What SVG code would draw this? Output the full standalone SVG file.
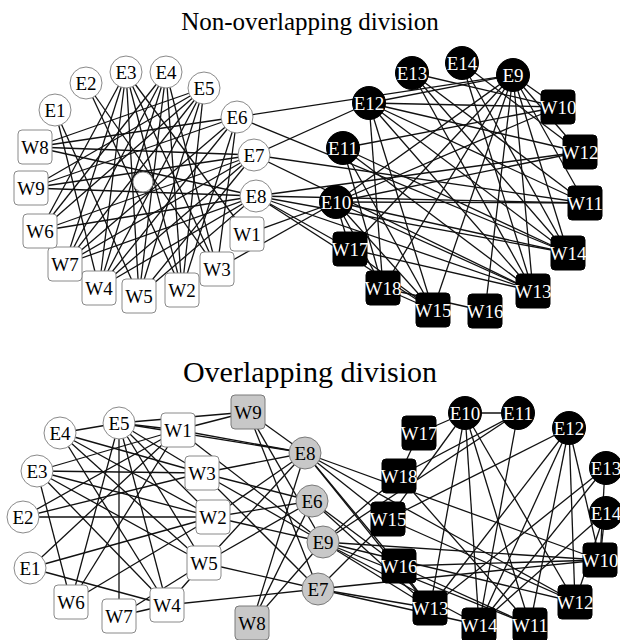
<svg xmlns="http://www.w3.org/2000/svg" width="620" height="640" viewBox="0 0 620 640">
<style>
.e line{stroke:#111;stroke-width:1.3}
.w circle,.w rect{fill:#fff;stroke:#8a8a8a;stroke-width:1}
.k circle,.k rect{fill:#000;stroke:#000}
.g circle,.g rect{fill:#c8c8c8;stroke:#7a7a7a;stroke-width:1}
text{font-family:"Liberation Serif","Times New Roman",serif;font-size:19px;text-anchor:middle;dominant-baseline:central}
.k text{fill:#fff}
.title{font-size:25px;dominant-baseline:alphabetic}
</style>
<rect width="620" height="640" fill="#fff"/>
<text class="title" x="310" y="30">Non-overlapping division</text>
<text class="title" x="310" y="382" style="font-size:30px">Overlapping division</text>

<g id="connectors" class="e">
<!-- top left -->
<line x1="55" y1="110" x2="99" y2="288"/><line x1="55" y1="110" x2="139" y2="296"/>
<line x1="86" y1="83" x2="182" y2="290"/><line x1="86" y1="83" x2="217" y2="269"/>
<line x1="126" y1="72" x2="40" y2="231"/><line x1="126" y1="72" x2="65" y2="264"/><line x1="126" y1="72" x2="99" y2="288"/><line x1="126" y1="72" x2="139" y2="296"/><line x1="126" y1="72" x2="182" y2="290"/><line x1="126" y1="72" x2="217" y2="269"/><line x1="126" y1="72" x2="247" y2="234"/>
<line x1="166" y1="72" x2="65" y2="264"/><line x1="166" y1="72" x2="40" y2="231"/><line x1="166" y1="72" x2="99" y2="288"/><line x1="166" y1="72" x2="139" y2="296"/><line x1="166" y1="72" x2="182" y2="290"/><line x1="166" y1="72" x2="217" y2="269"/>
<line x1="204" y1="88" x2="35" y2="147"/><line x1="204" y1="88" x2="31" y2="188"/><line x1="204" y1="88" x2="40" y2="231"/><line x1="204" y1="88" x2="65" y2="264"/><line x1="204" y1="88" x2="99" y2="288"/><line x1="204" y1="88" x2="139" y2="296"/><line x1="204" y1="88" x2="182" y2="290"/>
<line x1="237" y1="117" x2="35" y2="147"/><line x1="237" y1="117" x2="31" y2="188"/><line x1="237" y1="117" x2="65" y2="264"/><line x1="237" y1="117" x2="99" y2="288"/><line x1="237" y1="117" x2="217" y2="269"/><line x1="237" y1="117" x2="182" y2="290"/>
<line x1="254" y1="155" x2="31" y2="188"/><line x1="254" y1="155" x2="40" y2="231"/><line x1="254" y1="155" x2="65" y2="264"/><line x1="254" y1="155" x2="99" y2="288"/><line x1="254" y1="155" x2="139" y2="296"/><line x1="254" y1="155" x2="35" y2="147"/>
<line x1="256" y1="196" x2="35" y2="147"/><line x1="256" y1="196" x2="31" y2="188"/><line x1="256" y1="196" x2="40" y2="231"/><line x1="256" y1="196" x2="65" y2="264"/><line x1="256" y1="196" x2="99" y2="288"/><line x1="256" y1="196" x2="139" y2="296"/>
<!-- top cross -->
<line x1="237" y1="117" x2="513" y2="75"/><line x1="237" y1="117" x2="568" y2="253"/>
<line x1="254" y1="155" x2="369" y2="103"/><line x1="254" y1="155" x2="533" y2="291"/><line x1="254" y1="155" x2="585" y2="203"/>
<line x1="256" y1="196" x2="580" y2="152"/><line x1="256" y1="196" x2="585" y2="203"/><line x1="256" y1="196" x2="533" y2="291"/><line x1="256" y1="196" x2="350" y2="249"/><line x1="256" y1="196" x2="568" y2="253"/><line x1="256" y1="196" x2="433" y2="310"/>
<line x1="247" y1="234" x2="336" y2="202"/><line x1="217" y1="269" x2="336" y2="202"/>
<!-- top right -->
<line x1="513" y1="75" x2="369" y2="103"/><line x1="513" y1="75" x2="558" y2="107"/><line x1="513" y1="75" x2="580" y2="152"/><line x1="513" y1="75" x2="585" y2="203"/><line x1="513" y1="75" x2="568" y2="253"/><line x1="513" y1="75" x2="533" y2="291"/><line x1="513" y1="75" x2="485" y2="311"/><line x1="513" y1="75" x2="383" y2="288"/><line x1="513" y1="75" x2="350" y2="249"/><line x1="513" y1="75" x2="336" y2="202"/><line x1="513" y1="75" x2="433" y2="310"/>
<line x1="462" y1="63" x2="533" y2="291"/><line x1="462" y1="63" x2="568" y2="253"/><line x1="462" y1="63" x2="580" y2="152"/>
<line x1="412" y1="73" x2="558" y2="107"/><line x1="412" y1="73" x2="568" y2="253"/><line x1="412" y1="73" x2="533" y2="291"/><line x1="412" y1="73" x2="585" y2="203"/>
<line x1="369" y1="103" x2="558" y2="107"/><line x1="369" y1="103" x2="580" y2="152"/><line x1="369" y1="103" x2="568" y2="253"/><line x1="369" y1="103" x2="533" y2="291"/><line x1="369" y1="103" x2="433" y2="310"/><line x1="369" y1="103" x2="383" y2="288"/><line x1="369" y1="103" x2="585" y2="203"/>
<line x1="343" y1="148" x2="558" y2="107"/><line x1="343" y1="148" x2="533" y2="291"/><line x1="343" y1="148" x2="568" y2="253"/><line x1="343" y1="148" x2="433" y2="310"/><line x1="343" y1="148" x2="383" y2="288"/>
<line x1="336" y1="202" x2="585" y2="203"/><line x1="336" y1="202" x2="580" y2="152"/><line x1="336" y1="202" x2="568" y2="253"/><line x1="336" y1="202" x2="533" y2="291"/><line x1="336" y1="202" x2="350" y2="249"/><line x1="336" y1="202" x2="383" y2="288"/><line x1="336" y1="202" x2="433" y2="310"/><line x1="336" y1="202" x2="558" y2="107"/>
<line x1="350" y1="249" x2="433" y2="310"/><line x1="350" y1="249" x2="533" y2="291"/>
<line x1="383" y1="288" x2="433" y2="310"/><line x1="383" y1="288" x2="485" y2="311"/>
<!-- bottom left -->
<line x1="60" y1="433" x2="119" y2="423"/><line x1="60" y1="433" x2="202" y2="473"/><line x1="60" y1="433" x2="204" y2="563"/><line x1="60" y1="433" x2="167" y2="605"/><line x1="60" y1="433" x2="213" y2="517"/>
<line x1="119" y1="423" x2="178" y2="430"/><line x1="119" y1="423" x2="248" y2="412"/><line x1="119" y1="423" x2="305" y2="453"/><line x1="119" y1="423" x2="119" y2="616"/><line x1="119" y1="423" x2="71" y2="602"/><line x1="119" y1="423" x2="167" y2="605"/><line x1="119" y1="423" x2="204" y2="563"/><line x1="119" y1="423" x2="213" y2="517"/><line x1="119" y1="423" x2="202" y2="473"/>
<line x1="178" y1="430" x2="248" y2="412"/><line x1="178" y1="430" x2="305" y2="453"/><line x1="178" y1="430" x2="37" y2="471"/><line x1="178" y1="430" x2="23" y2="517"/><line x1="178" y1="430" x2="71" y2="602"/><line x1="178" y1="430" x2="323" y2="542"/><line x1="178" y1="430" x2="30" y2="568"/>
<line x1="37" y1="471" x2="202" y2="473"/><line x1="37" y1="471" x2="213" y2="517"/><line x1="37" y1="471" x2="204" y2="563"/><line x1="37" y1="471" x2="167" y2="605"/><line x1="37" y1="471" x2="71" y2="602"/>
<line x1="23" y1="517" x2="213" y2="517"/><line x1="23" y1="517" x2="202" y2="473"/>
<line x1="30" y1="568" x2="213" y2="517"/><line x1="30" y1="568" x2="167" y2="605"/>
<line x1="71" y1="602" x2="213" y2="517"/><line x1="119" y1="616" x2="167" y2="605"/><line x1="119" y1="616" x2="204" y2="563"/><line x1="167" y1="605" x2="204" y2="563"/>
<line x1="167" y1="605" x2="318" y2="589"/><line x1="204" y1="563" x2="318" y2="589"/><line x1="204" y1="563" x2="305" y2="453"/><line x1="204" y1="563" x2="312" y2="501"/>
<line x1="213" y1="517" x2="305" y2="453"/><line x1="213" y1="517" x2="312" y2="501"/><line x1="213" y1="517" x2="323" y2="542"/>
<line x1="202" y1="473" x2="305" y2="453"/><line x1="202" y1="473" x2="323" y2="542"/><line x1="202" y1="473" x2="312" y2="501"/><line x1="202" y1="473" x2="318" y2="589"/>
<line x1="248" y1="412" x2="305" y2="453"/><line x1="248" y1="412" x2="323" y2="542"/><line x1="248" y1="412" x2="318" y2="589"/>
<line x1="252" y1="623" x2="305" y2="453"/><line x1="252" y1="623" x2="312" y2="501"/><line x1="252" y1="623" x2="323" y2="542"/>
<!-- bottom right -->
<line x1="305" y1="453" x2="600" y2="560"/><line x1="305" y1="453" x2="575" y2="602"/><line x1="305" y1="453" x2="399" y2="566"/><line x1="305" y1="453" x2="430" y2="608"/><line x1="305" y1="453" x2="388" y2="519"/>
<line x1="312" y1="501" x2="399" y2="566"/><line x1="312" y1="501" x2="430" y2="608"/>
<line x1="323" y1="542" x2="399" y2="476"/><line x1="323" y1="542" x2="518" y2="413"/><line x1="323" y1="542" x2="600" y2="560"/><line x1="323" y1="542" x2="575" y2="602"/><line x1="323" y1="542" x2="530" y2="625"/><line x1="323" y1="542" x2="479" y2="625"/><line x1="323" y1="542" x2="430" y2="608"/>
<line x1="318" y1="589" x2="388" y2="519"/><line x1="318" y1="589" x2="600" y2="560"/><line x1="318" y1="589" x2="430" y2="608"/><line x1="318" y1="589" x2="479" y2="625"/>
<line x1="419" y1="433" x2="465" y2="413"/><line x1="419" y1="433" x2="399" y2="476"/>
<line x1="399" y1="476" x2="518" y2="413"/><line x1="399" y1="476" x2="530" y2="625"/>
<line x1="388" y1="519" x2="569" y2="428"/><line x1="388" y1="519" x2="465" y2="413"/><line x1="388" y1="519" x2="575" y2="602"/>
<line x1="465" y1="413" x2="430" y2="608"/><line x1="465" y1="413" x2="479" y2="625"/><line x1="465" y1="413" x2="530" y2="625"/><line x1="465" y1="413" x2="575" y2="602"/><line x1="465" y1="413" x2="518" y2="413"/>
<line x1="518" y1="413" x2="479" y2="625"/>
<line x1="569" y1="428" x2="430" y2="608"/><line x1="569" y1="428" x2="479" y2="625"/><line x1="569" y1="428" x2="530" y2="625"/><line x1="569" y1="428" x2="575" y2="602"/><line x1="569" y1="428" x2="600" y2="560"/>
<line x1="605" y1="468" x2="430" y2="608"/><line x1="605" y1="468" x2="479" y2="625"/><line x1="605" y1="468" x2="600" y2="560"/>
<line x1="605" y1="513" x2="600" y2="560"/><line x1="605" y1="513" x2="575" y2="602"/><line x1="605" y1="513" x2="479" y2="625"/>
<line x1="399" y1="566" x2="600" y2="560"/><line x1="399" y1="566" x2="530" y2="625"/><line x1="399" y1="566" x2="430" y2="608"/>
</g>

<!-- top nodes -->
<g id="t-hub" class="w"><circle cx="143" cy="182" r="10" stroke="#000"/></g>
<g id="t-E1" class="w"><circle cx="55" cy="110" r="16"/><text x="55" y="110">E1</text></g>
<g id="t-E2" class="w"><circle cx="86" cy="83" r="16"/><text x="86" y="83">E2</text></g>
<g id="t-E3" class="w"><circle cx="126" cy="72" r="16"/><text x="126" y="72">E3</text></g>
<g id="t-E4" class="w"><circle cx="166" cy="72" r="16"/><text x="166" y="72">E4</text></g>
<g id="t-E5" class="w"><circle cx="204" cy="88" r="16"/><text x="204" y="88">E5</text></g>
<g id="t-E6" class="w"><circle cx="237" cy="117" r="16"/><text x="237" y="117">E6</text></g>
<g id="t-E7" class="w"><circle cx="254" cy="155" r="16"/><text x="254" y="155">E7</text></g>
<g id="t-E8" class="w"><circle cx="256" cy="196" r="16"/><text x="256" y="196">E8</text></g>
<g id="t-W1" class="w"><rect x="230" y="217" width="34" height="34" rx="4"/><text x="247" y="234">W1</text></g>
<g id="t-W3" class="w"><rect x="200" y="252" width="34" height="34" rx="4"/><text x="217" y="269">W3</text></g>
<g id="t-W2" class="w"><rect x="165" y="273" width="34" height="34" rx="4"/><text x="182" y="290">W2</text></g>
<g id="t-W5" class="w"><rect x="122" y="279" width="34" height="34" rx="4"/><text x="139" y="296">W5</text></g>
<g id="t-W4" class="w"><rect x="82" y="271" width="34" height="34" rx="4"/><text x="99" y="288">W4</text></g>
<g id="t-W7" class="w"><rect x="48" y="247" width="34" height="34" rx="4"/><text x="65" y="264">W7</text></g>
<g id="t-W6" class="w"><rect x="23" y="214" width="34" height="34" rx="4"/><text x="40" y="231">W6</text></g>
<g id="t-W9" class="w"><rect x="14" y="171" width="34" height="34" rx="4"/><text x="31" y="188">W9</text></g>
<g id="t-W8" class="w"><rect x="18" y="130" width="34" height="34" rx="4"/><text x="35" y="147">W8</text></g>
<g id="t-E13" class="k"><circle cx="412" cy="73" r="16.5"/><text x="412" y="73">E13</text></g>
<g id="t-E14" class="k"><circle cx="462" cy="63" r="16.5"/><text x="462" y="63">E14</text></g>
<g id="t-E9" class="k"><circle cx="513" cy="75" r="16.5"/><text x="513" y="75">E9</text></g>
<g id="t-E12" class="k"><circle cx="369" cy="103" r="16.5"/><text x="369" y="103">E12</text></g>
<g id="t-E11" class="k"><circle cx="343" cy="148" r="16.5"/><text x="343" y="148">E11</text></g>
<g id="t-E10" class="k"><circle cx="336" cy="202" r="16.5"/><text x="336" y="202">E10</text></g>
<g id="t-W10" class="k"><rect x="541" y="90" width="34" height="34" rx="4"/><text x="558" y="107">W10</text></g>
<g id="t-W12" class="k"><rect x="563" y="135" width="34" height="34" rx="4"/><text x="580" y="152">W12</text></g>
<g id="t-W11" class="k"><rect x="568" y="186" width="34" height="34" rx="4"/><text x="585" y="203">W11</text></g>
<g id="t-W14" class="k"><rect x="551" y="236" width="34" height="34" rx="4"/><text x="568" y="253">W14</text></g>
<g id="t-W13" class="k"><rect x="516" y="274" width="34" height="34" rx="4"/><text x="533" y="291">W13</text></g>
<g id="t-W16" class="k"><rect x="468" y="294" width="34" height="34" rx="4"/><text x="485" y="311">W16</text></g>
<g id="t-W15" class="k"><rect x="416" y="293" width="34" height="34" rx="4"/><text x="433" y="310">W15</text></g>
<g id="t-W18" class="k"><rect x="366" y="271" width="34" height="34" rx="4"/><text x="383" y="288">W18</text></g>
<g id="t-W17" class="k"><rect x="333" y="232" width="34" height="34" rx="4"/><text x="350" y="249">W17</text></g>

<!-- bottom nodes -->
<g id="b-E4" class="w"><circle cx="60" cy="433" r="16"/><text x="60" y="433">E4</text></g>
<g id="b-E5" class="w"><circle cx="119" cy="423" r="16"/><text x="119" y="423">E5</text></g>
<g id="b-E3" class="w"><circle cx="37" cy="471" r="16"/><text x="37" y="471">E3</text></g>
<g id="b-E2" class="w"><circle cx="23" cy="517" r="16"/><text x="23" y="517">E2</text></g>
<g id="b-E1" class="w"><circle cx="30" cy="568" r="16"/><text x="30" y="568">E1</text></g>
<g id="b-W1" class="w"><rect x="161" y="413" width="34" height="34" rx="4"/><text x="178" y="430">W1</text></g>
<g id="b-W3" class="w"><rect x="185" y="456" width="34" height="34" rx="4"/><text x="202" y="473">W3</text></g>
<g id="b-W2" class="w"><rect x="196" y="500" width="34" height="34" rx="4"/><text x="213" y="517">W2</text></g>
<g id="b-W5" class="w"><rect x="187" y="546" width="34" height="34" rx="4"/><text x="204" y="563">W5</text></g>
<g id="b-W6" class="w"><rect x="54" y="585" width="34" height="34" rx="4"/><text x="71" y="602">W6</text></g>
<g id="b-W7" class="w"><rect x="102" y="599" width="34" height="34" rx="4"/><text x="119" y="616">W7</text></g>
<g id="b-W4" class="w"><rect x="150" y="588" width="34" height="34" rx="4"/><text x="167" y="605">W4</text></g>
<g id="b-W9" class="g"><rect x="231" y="395" width="34" height="34" rx="4"/><text x="248" y="412">W9</text></g>
<g id="b-W8" class="g"><rect x="235" y="606" width="34" height="34" rx="4"/><text x="252" y="623">W8</text></g>
<g id="b-E8" class="g"><circle cx="305" cy="453" r="16"/><text x="305" y="453">E8</text></g>
<g id="b-E6" class="g"><circle cx="312" cy="501" r="16"/><text x="312" y="501">E6</text></g>
<g id="b-E9" class="g"><circle cx="323" cy="542" r="16"/><text x="323" y="542">E9</text></g>
<g id="b-E7" class="g"><circle cx="318" cy="589" r="16"/><text x="318" y="589">E7</text></g>
<g id="b-W17" class="k"><rect x="402" y="416" width="34" height="34" rx="4"/><text x="419" y="433">W17</text></g>
<g id="b-E10" class="k"><circle cx="465" cy="413" r="16.5"/><text x="465" y="413">E10</text></g>
<g id="b-E11" class="k"><circle cx="518" cy="413" r="16.5"/><text x="518" y="413">E11</text></g>
<g id="b-E12" class="k"><circle cx="569" cy="428" r="16.5"/><text x="569" y="428">E12</text></g>
<g id="b-W18" class="k"><rect x="382" y="459" width="34" height="34" rx="4"/><text x="399" y="476">W18</text></g>
<g id="b-E13" class="k"><circle cx="606" cy="468" r="16.5"/><text x="606" y="468">E13</text></g>
<g id="b-W15" class="k"><rect x="371" y="502" width="34" height="34" rx="4"/><text x="388" y="519">W15</text></g>
<g id="b-E14" class="k"><circle cx="606" cy="513" r="16.5"/><text x="606" y="513">E14</text></g>
<g id="b-W16" class="k"><rect x="382" y="549" width="34" height="34" rx="4"/><text x="399" y="566">W16</text></g>
<g id="b-W10" class="k"><rect x="583" y="543" width="34" height="34" rx="4"/><text x="600" y="560">W10</text></g>
<g id="b-W12" class="k"><rect x="558" y="585" width="34" height="34" rx="4"/><text x="575" y="602">W12</text></g>
<g id="b-W13" class="k"><rect x="413" y="591" width="34" height="34" rx="4"/><text x="430" y="608">W13</text></g>
<g id="b-W14" class="k"><rect x="462" y="608" width="34" height="34" rx="4"/><text x="479" y="625">W14</text></g>
<g id="b-W11" class="k"><rect x="513" y="608" width="34" height="34" rx="4"/><text x="530" y="625">W11</text></g>
</svg>
